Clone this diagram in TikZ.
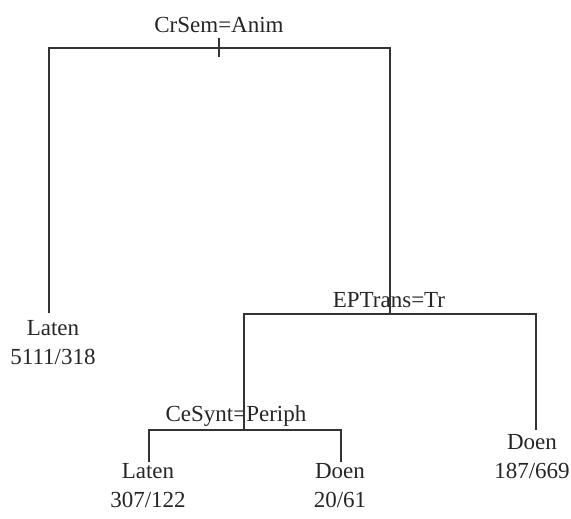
\documentclass[tikz,border=0pt]{standalone}
\usepackage{fontspec}
\setmainfont{Liberation Serif}
\begin{document}
\begin{tikzpicture}[x=1pt,y=-1pt,
  edge/.style={draw=black!80,line width=1.1pt},
  lbl/.style={anchor=base,inner sep=0pt,font=\fontsize{23}{29}\selectfont,text=black!85},
  leaf/.style={anchor=base,inner sep=0pt,align=center,font=\fontsize{23}{29}\selectfont,text=black!85}]
\useasboundingbox (0,0) rectangle (571,519);
% split points
\coordinate (r) at (219,48);
\coordinate (rL) at (49,48);
\coordinate (rR) at (390,48);
\coordinate (e) at (390,314);
\coordinate (eL) at (244,314);
\coordinate (eR) at (536,314);
\coordinate (c) at (244,430);
\coordinate (cL) at (149,430);
\coordinate (cR) at (341,430);
\coordinate (rt) at (219,38);
\coordinate (rb) at (219,57);
% labels
\node[lbl] (lr) at (219,33) {CrSem=Anim};
\node[lbl] (le) at (389,307) {EPTrans=Tr};
\node[lbl] (lc) at (236,421) {CeSynt=Periph};
% leaves (base = baseline of the last line)
\node[leaf] (l1) at (53,364) {Laten\\5111/318};
\node[leaf] (l2) at (148,507) {Laten\\307/122};
\node[leaf] (l3) at (340,507) {Doen\\20/61};
\node[leaf] (l4) at (532,478) {Doen\\187/669};
\coordinate (l1t) at (49,313);
\coordinate (l2t) at (149,462);
\coordinate (l3t) at (341,462);
\coordinate (l4t) at (536,430);
% edges
\draw[edge] (rt) -- (rb);
\draw[edge] (l1t) -- (rL) -- (rR) -- (e);
\draw[edge] (c) -- (eL) -- (eR) -- (l4t);
\draw[edge] (l2t) -- (cL) -- (cR) -- (l3t);
\end{tikzpicture}
\end{document}
